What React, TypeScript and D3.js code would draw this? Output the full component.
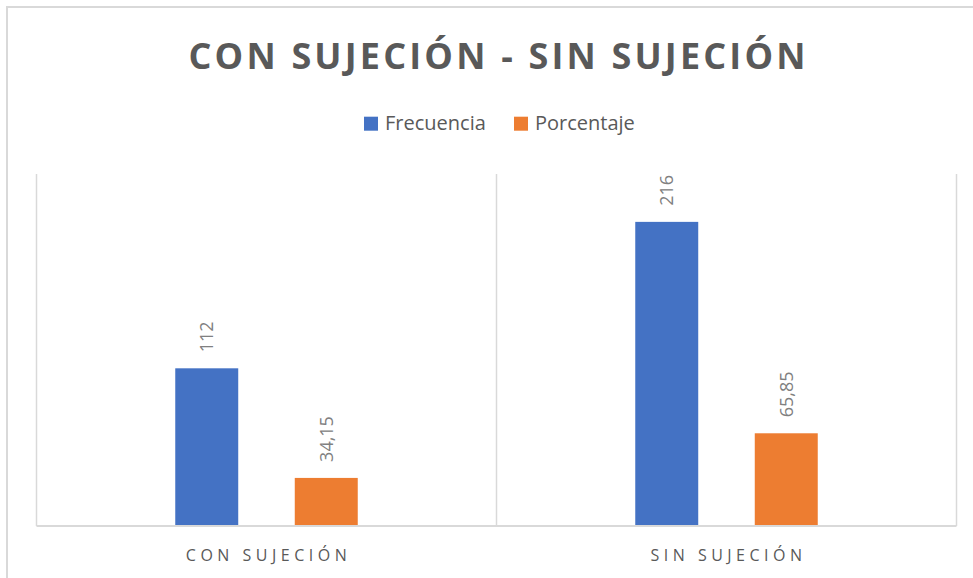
import React from "react";
import * as d3 from "d3";

const categories = ["CON SUJECIÓN", "SIN SUJECIÓN"];
const seriesNames = ["Frecuencia", "Porcentaje"];
const frecuencia = [112, 216];
const porcentaje = [34.15, 65.85];
const seriesColors = ["#4472C4", "#ED7D31"];
const yMax = 250;

const W = 973;
const H = 578;
const FONT = "'Open Sans', 'Noto Sans', sans-serif";

const fmt = (v: number) => (Number.isInteger(v) ? String(v) : v.toFixed(2).replace(".", ","));

export default function App() {
  const plotLeft = 36.5;
  const plotRight = 956.5;
  const plotTop = 174;
  const plotBottom = 526;

  const x0 = d3.scaleBand<string>().domain(categories).range([plotLeft, plotRight]).padding(0);
  const x1 = d3
    .scaleBand<string>()
    .domain(seriesNames)
    .range([0, x0.bandwidth()])
    .paddingInner(0.473)
    .paddingOuter(1.161);
  const y = d3.scaleLinear().domain([0, yMax]).range([plotBottom, plotTop]);

  const seriesValues = [frecuencia, porcentaje];
  const boundaries = [...categories.map((c) => x0(c) as number), plotRight];

  const legendItems = [
    { name: seriesNames[0], color: seriesColors[0], x: 364 },
    { name: seriesNames[1], color: seriesColors[1], x: 514 },
  ];

  return (
    <svg
      width={W}
      height={H}
      style={{ position: "absolute", left: 0, top: 0, background: "#fff" }}
      fontFamily={FONT}
    >
      <rect x={0} y={0} width={W} height={H} fill="#fff" />
      <rect x={7} y={7} width={W + 20} height={H + 20} fill="#fff" stroke="#d9d9d9" strokeWidth={2} />

      <text
        x={497}
        y={69.3}
        textAnchor="middle"
        fontSize={36}
        fontWeight={700}
        fill="#595959"
        textLength={617}
        lengthAdjust="spacing"
      >
        CON SUJECIÓN - SIN SUJECIÓN
      </text>

      {legendItems.map((it) => (
        <g key={it.name}>
          <rect x={it.x} y={116.7} width={14} height={14} fill={it.color} />
          <text x={it.x + 21} y={130} fontSize={20} fill="#595959">
            {it.name}
          </text>
        </g>
      ))}

      {boundaries.map((bx, i) => (
        <line key={i} x1={bx} x2={bx} y1={plotTop} y2={plotBottom} stroke="#d9d9d9" strokeWidth={1.5} />
      ))}

      {categories.map((cat, ci) =>
        seriesNames.map((s, si) => {
          const v = seriesValues[si][ci];
          const bx = (x0(cat) as number) + (x1(s) as number);
          const bw = x1.bandwidth();
          const top = y(v);
          return (
            <g key={cat + s}>
              <rect x={bx} y={top} width={bw} height={plotBottom - top} fill={seriesColors[si]} />
              <g transform={`translate(${bx + bw / 2},${top - 16}) rotate(-90)`}>
                <text x={0} y={0} dy="0.36em" textAnchor="start" fontSize={18} fill="#808080">
                  {fmt(v)}
                </text>
              </g>
            </g>
          );
        })
      )}

      <line x1={plotLeft} x2={plotRight} y1={plotBottom} y2={plotBottom} stroke="#d9d9d9" strokeWidth={2} />

      {categories.map((cat) => (
        <text
          key={cat}
          x={(x0(cat) as number) + x0.bandwidth() / 2 + 2}
          y={561}
          textAnchor="middle"
          fontSize={16}
          letterSpacing={4.5}
          fill="#595959"
        >
          {cat}
        </text>
      ))}
    </svg>
  );
}
